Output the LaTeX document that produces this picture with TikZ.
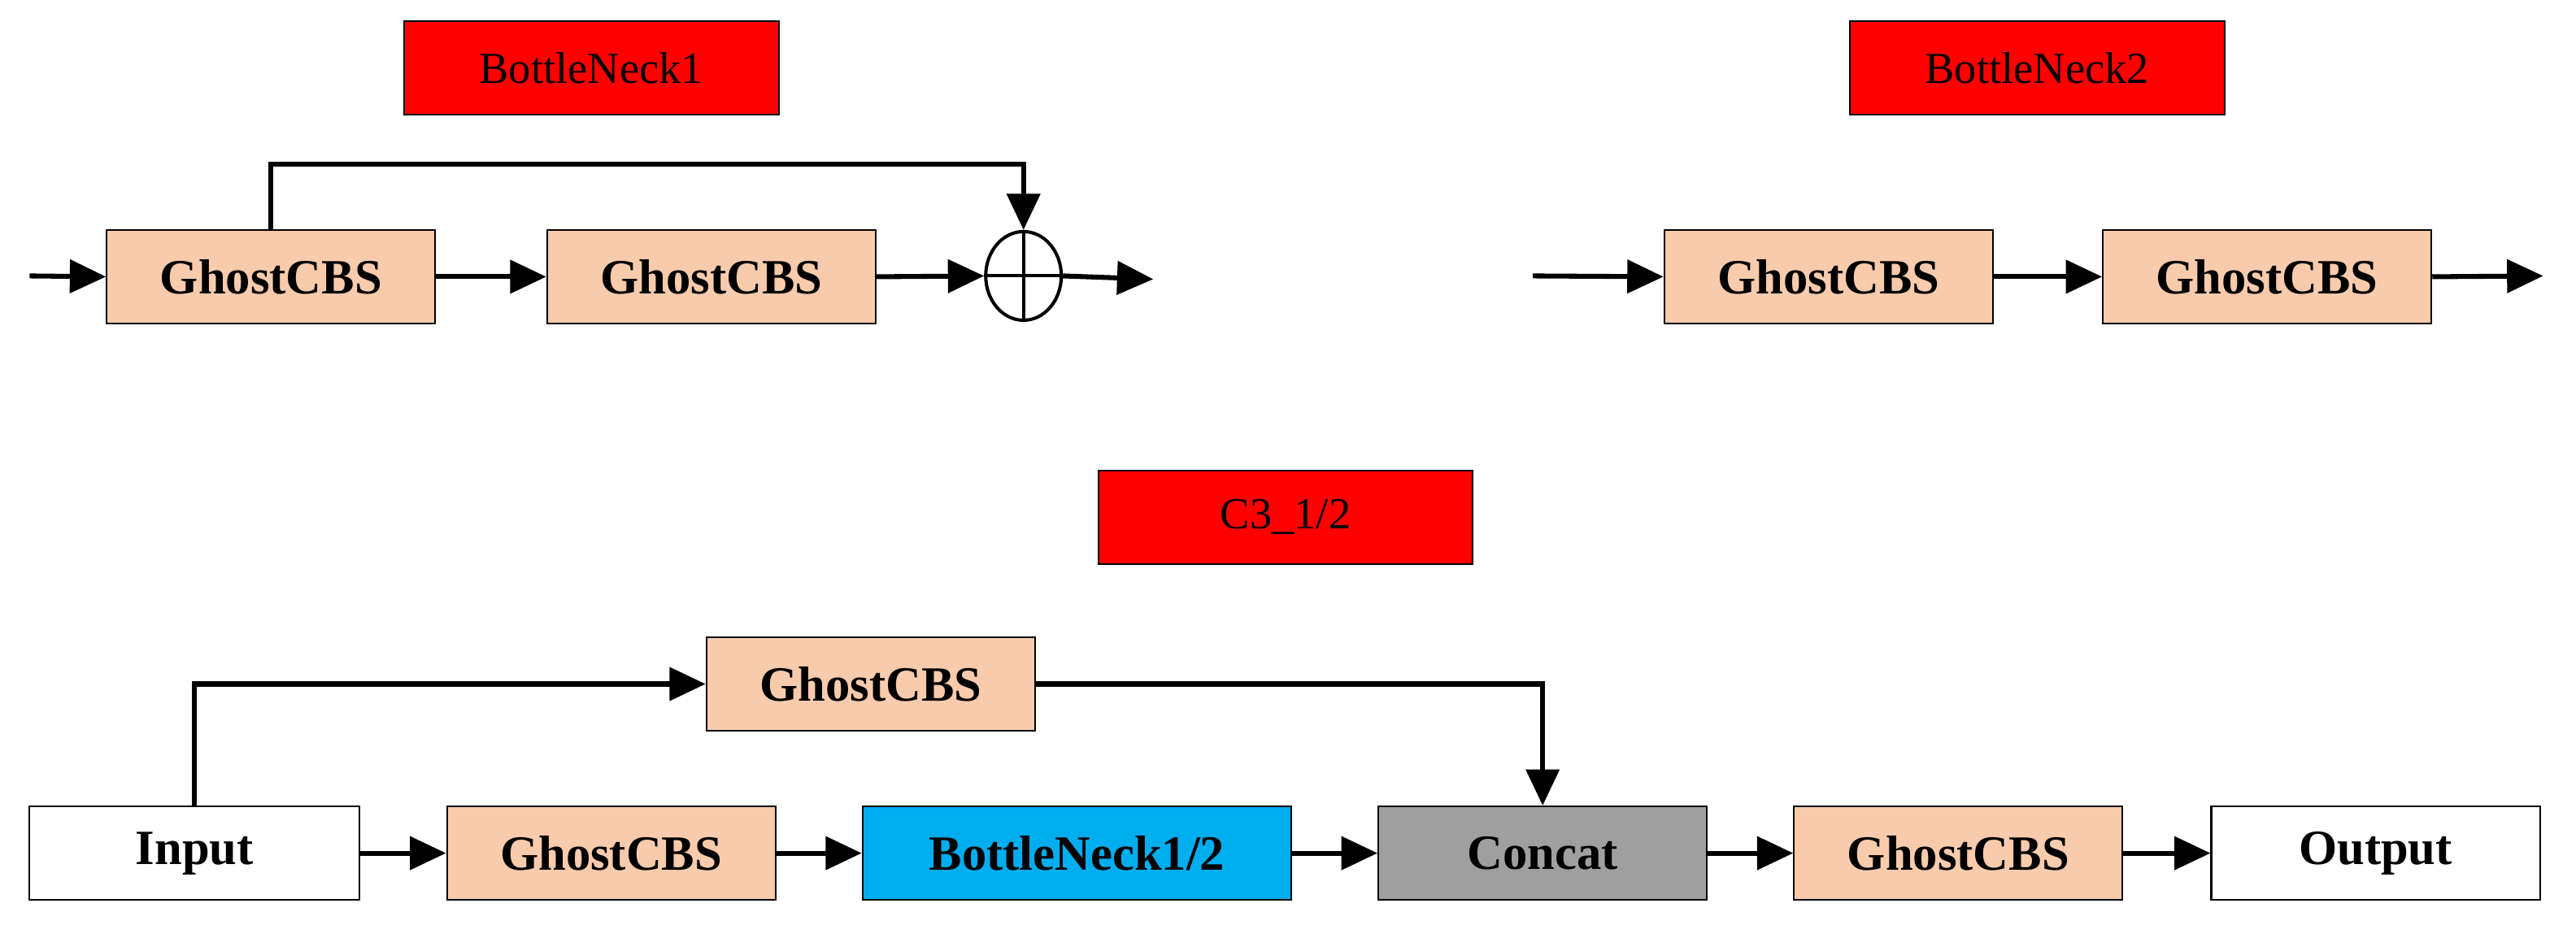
\documentclass[tikz,border=0pt]{standalone}
\usepackage{fontspec}
\setmainfont{Liberation Serif}
\usetikzlibrary{arrows.meta,shapes.geometric}
\begin{document}
\begin{tikzpicture}[x=1pt,y=-1pt,
  box/.style={draw,line width=1pt,minimum width=200pt,minimum height=57pt,inner sep=0pt,font=\fontsize{30}{30}\selectfont\bfseries},
  gh/.style={box,fill=ghost},
  title/.style={draw,line width=1pt,fill=red,minimum width=228pt,minimum height=57pt,inner sep=0pt,font=\fontsize{27}{27}\selectfont},
  arr/.style={line width=3pt,-{Triangle[length=22pt,width=20pt]}},
  ln/.style={line width=3pt}]
\definecolor{ghost}{RGB}{248,203,173}
\useasboundingbox (0,0) rectangle (1568,563);
\node[title] (t1) at (360,41.5) {BottleNeck1};
\node[title] (t2) at (1240,41.5) {BottleNeck2};
\node[title] (t3) at (782.5,315) {C3\_1/2};
% BottleNeck1
\coordinate (in1) at (18,168);
\node[gh] (a1) at (165,168.5) {GhostCBS};
\node[gh] (a2) at (433,168.5) {GhostCBS};
\node[draw,line width=2pt,ellipse,minimum width=46pt,minimum height=54pt,inner sep=0pt] (plus) at (623,168) {};
\draw[line width=2pt] (plus.north) -- (plus.south) (plus.west) -- (plus.east);
\coordinate (o1) at (702,170);
\draw[arr] (in1) -- (a1.west);
\draw[arr] (a1.east) -- (a2.west);
\draw[arr] (a2.east) -- (plus.west);
\draw[arr] (plus.east) -- (o1);
\draw[arr] (a1.north) -- (165,100) -- (623,100) -- (plus.north);
% BottleNeck2
\coordinate (in2) at (933,168);
\node[gh] (b1) at (1113,168.5) {GhostCBS};
\node[gh] (b2) at (1380,168.5) {GhostCBS};
\coordinate (o2) at (1548,168);
\draw[arr] (in2) -- (b1.west);
\draw[arr] (b1.east) -- (b2.west);
\draw[arr] (b2.east) -- (o2);
% C3
\node[box,fill=white,minimum width=201pt] (inp) at (118.5,519.5) {Input};
\node[gh] (c1) at (372,519.5) {GhostCBS};
\node[box,fill=cyan,minimum width=261pt] (bn) at (655.5,519.5) {BottleNeck1/2};
\node[box,fill=gray!75] (cc) at (939,519.5) {Concat};
\node[gh] (c2) at (1192,519.5) {GhostCBS};
\node[box,fill=white] (out) at (1446,519.5) {Output};
\node[gh] (top) at (530,416.5) {GhostCBS};
\draw[arr] (inp.east) -- (c1.west);
\draw[arr] (c1.east) -- (bn.west);
\draw[arr] (bn.east) -- (cc.west);
\draw[arr] (cc.east) -- (c2.west);
\draw[arr] (c2.east) -- (out.west);
\draw[arr] (inp.north) -- (118.5,416.5) -- (top.west);
\draw[arr] (top.east) -- (939,416.5) -- (cc.north);
\end{tikzpicture}
\end{document}
